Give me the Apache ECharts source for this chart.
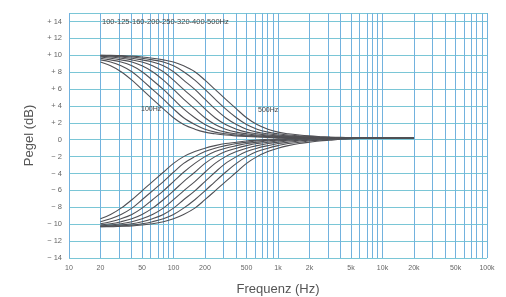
<!DOCTYPE html>
<html>
<head>
<meta charset="utf-8">
<script src="https://cdn.jsdelivr.net/npm/echarts@6/dist/echarts.min.js"></script>
<style>
  html, body { margin: 0; padding: 0; background: #fff; }
  #chart { width: 506px; height: 297px; }
</style>
</head>
<body>
<div id="chart"></div>
<script>
const freqs = [20, 25, 31.5, 40, 50, 63, 80, 100, 125, 160, 200, 250, 315, 400, 500, 630, 800, 1000, 1250, 1600, 2000, 2500, 3150, 4000, 5000, 10000, 20000];

// boost (dB), one array per turnover frequency
const boost100 = [9.2, 8.75, 8.05, 7.05, 5.95, 4.8, 3.65, 2.6, 1.8, 1.25, 0.9, 0.7, 0.55, 0.45, 0.38, 0.32, 0.28, 0.25, 0.23, 0.22, 0.2, 0.2, 0.2, 0.2, 0.2, 0.2, 0.2];
const boost125 = [9.45, 9.2, 8.75, 8.05, 7.05, 5.95, 4.8, 3.65, 2.6, 1.8, 1.25, 0.9, 0.7, 0.55, 0.45, 0.38, 0.32, 0.28, 0.25, 0.23, 0.22, 0.2, 0.2, 0.2, 0.2, 0.2, 0.2];
const boost160 = [9.65, 9.45, 9.2, 8.75, 8.05, 7.05, 5.95, 4.8, 3.65, 2.6, 1.8, 1.25, 0.9, 0.7, 0.55, 0.45, 0.38, 0.32, 0.28, 0.25, 0.23, 0.22, 0.2, 0.2, 0.2, 0.2, 0.2];
const boost200 = [9.8, 9.65, 9.45, 9.2, 8.75, 8.05, 7.05, 5.95, 4.8, 3.65, 2.6, 1.8, 1.25, 0.9, 0.7, 0.55, 0.45, 0.38, 0.32, 0.28, 0.25, 0.23, 0.22, 0.2, 0.2, 0.2, 0.2];
const boost250 = [9.9, 9.8, 9.65, 9.45, 9.2, 8.75, 8.05, 7.05, 5.95, 4.8, 3.65, 2.6, 1.8, 1.25, 0.9, 0.7, 0.55, 0.45, 0.38, 0.32, 0.28, 0.25, 0.23, 0.22, 0.2, 0.2, 0.2];
const boost320 = [9.95, 9.9, 9.8, 9.65, 9.45, 9.2, 8.75, 8.05, 7.05, 5.95, 4.8, 3.65, 2.6, 1.8, 1.25, 0.9, 0.7, 0.55, 0.45, 0.38, 0.32, 0.28, 0.25, 0.23, 0.22, 0.2, 0.2];
const boost400 = [10.0, 9.95, 9.9, 9.8, 9.65, 9.45, 9.2, 8.75, 8.05, 7.05, 5.95, 4.8, 3.65, 2.6, 1.8, 1.25, 0.9, 0.7, 0.55, 0.45, 0.38, 0.32, 0.28, 0.25, 0.23, 0.2, 0.2];
const boost500 = [10.0, 10.0, 9.95, 9.9, 9.8, 9.65, 9.45, 9.2, 8.75, 8.05, 7.05, 5.95, 4.8, 3.65, 2.6, 1.8, 1.25, 0.9, 0.7, 0.55, 0.45, 0.38, 0.32, 0.28, 0.25, 0.2, 0.2];

// cut (dB)
const cut100 = [-9.35, -8.85, -8.1, -7.1, -6.05, -4.95, -3.85, -2.8, -2.0, -1.4, -1.0, -0.7, -0.45, -0.3, -0.15, -0.05, 0.05, 0.1, 0.15, 0.18, 0.2, 0.2, 0.2, 0.2, 0.2, 0.2, 0.2];
const cut125 = [-9.7, -9.35, -8.85, -8.1, -7.1, -6.05, -4.95, -3.85, -2.8, -2.0, -1.4, -1.0, -0.7, -0.45, -0.3, -0.15, -0.05, 0.05, 0.1, 0.15, 0.18, 0.2, 0.2, 0.2, 0.2, 0.2, 0.2];
const cut160 = [-9.95, -9.7, -9.35, -8.85, -8.1, -7.1, -6.05, -4.95, -3.85, -2.8, -2.0, -1.4, -1.0, -0.7, -0.45, -0.3, -0.15, -0.05, 0.05, 0.1, 0.15, 0.18, 0.2, 0.2, 0.2, 0.2, 0.2];
const cut200 = [-10.1, -9.95, -9.7, -9.35, -8.85, -8.1, -7.1, -6.05, -4.95, -3.85, -2.8, -2.0, -1.4, -1.0, -0.7, -0.45, -0.3, -0.15, -0.05, 0.05, 0.1, 0.15, 0.18, 0.2, 0.2, 0.2, 0.2];
const cut250 = [-10.2, -10.1, -9.95, -9.7, -9.35, -8.85, -8.1, -7.1, -6.05, -4.95, -3.85, -2.8, -2.0, -1.4, -1.0, -0.7, -0.45, -0.3, -0.15, -0.05, 0.05, 0.1, 0.15, 0.18, 0.2, 0.2, 0.2];
const cut320 = [-10.25, -10.2, -10.1, -9.95, -9.7, -9.35, -8.85, -8.1, -7.1, -6.05, -4.95, -3.85, -2.8, -2.0, -1.4, -1.0, -0.7, -0.45, -0.3, -0.15, -0.05, 0.05, 0.1, 0.15, 0.18, 0.2, 0.2];
const cut400 = [-10.3, -10.25, -10.2, -10.1, -9.95, -9.7, -9.35, -8.85, -8.1, -7.1, -6.05, -4.95, -3.85, -2.8, -2.0, -1.4, -1.0, -0.7, -0.45, -0.3, -0.15, -0.05, 0.05, 0.1, 0.15, 0.2, 0.2];
const cut500 = [-10.3, -10.3, -10.25, -10.2, -10.1, -9.95, -9.7, -9.35, -8.85, -8.1, -7.1, -6.05, -4.95, -3.85, -2.8, -2.0, -1.4, -1.0, -0.7, -0.45, -0.3, -0.15, -0.05, 0.05, 0.1, 0.2, 0.2];

const curves = [boost100, boost125, boost160, boost200, boost250, boost320, boost400, boost500,
  cut100, cut125, cut160, cut200, cut250, cut320, cut400, cut500];

// axis ticks
const xTickFreqs = [10, 20, 50, 100, 200, 500, 1000, 2000, 5000, 10000, 20000, 50000, 100000];
const xTickLabels = ['10', '20', '50', '100', '200', '500', '1k', '2k', '5k', '10k', '20k', '50k', '100k'];
const gridFreqs = [10, 20, 30, 40, 50, 60, 70, 80, 90,
  100, 200, 300, 400, 500, 600, 700, 800, 900,
  1000, 2000, 3000, 4000, 5000, 6000, 7000, 8000, 9000,
  10000, 20000, 30000, 40000, 50000, 60000, 70000, 80000, 90000, 100000];

const chart = echarts.init(document.getElementById('chart'));

const lg = (f) => Math.log10(f);

const series = curves.map((vals) => ({
  type: 'line',
  data: vals.map((v, j) => [lg(freqs[j]), v]),
  smooth: 0.35,
  showSymbol: false,
  silent: true,
  lineStyle: { color: '#505055', width: 1.1 },
  z: 5
}));

// vertical log grid drawn as markLines on the first series
series[0].markLine = {
  silent: true,
  symbol: 'none',
  label: { show: false },
  lineStyle: { color: '#72b2de', width: 1, type: 'solid' },
  z: 1,
  data: gridFreqs.map((f) => ({ xAxis: lg(f) }))
};

chart.setOption({
  animation: false,
  textStyle: { fontFamily: 'Liberation Sans' },
  grid: { left: 69, right: 19, top: 13, bottom: 39, outerBoundsMode: 'none', containLabel: false },
  xAxis: {
    type: 'value',
    min: 1,
    max: 5,
    name: 'Frequenz (Hz)',
    nameLocation: 'middle',
    nameGap: 25,
    nameTextStyle: { fontSize: 13, color: '#555' },
    axisLine: { show: false },
    axisTick: { show: false },
    splitLine: { show: false },
    axisLabel: {
      customValues: xTickFreqs.map(lg),
      fontSize: 7,
      color: '#666',
      margin: 7,
      formatter: (v) => {
        const i = xTickFreqs.findIndex((f) => Math.abs(lg(f) - v) < 1e-6);
        return i >= 0 ? xTickLabels[i] : '';
      }
    }
  },
  yAxis: {
    type: 'value',
    min: -14,
    max: 15,
    interval: 2,
    name: 'Pegel (dB)',
    nameLocation: 'middle',
    nameGap: 31,
    nameTextStyle: { fontSize: 13, color: '#555' },
    axisLine: { show: false },
    axisTick: { show: false },
    splitLine: { lineStyle: { color: '#7ac6d6', width: 1 } },
    axisLabel: {
      fontSize: 7.5,
      color: '#666',
      margin: 7,
      formatter: (v) => {
        if (v > 14) return '';
        if (v > 0) return '+ ' + v;
        if (v < 0) return '\u2212 ' + Math.abs(v);
        return '0';
      }
    }
  },
  graphic: [
    { type: 'text', left: 102, top: 18, style: { text: '100-125-160-200-250-320-400-500Hz', fontSize: 7.5, fill: '#444', fontFamily: 'Liberation Sans' }, z: 10 },
    { type: 'text', left: 141, top: 106, style: { text: '100Hz', fontSize: 7, fill: '#444', fontFamily: 'Liberation Sans' }, z: 10 },
    { type: 'text', left: 258, top: 107, style: { text: '500Hz', fontSize: 7, fill: '#444', fontFamily: 'Liberation Sans' }, z: 10 }
  ],
  series: series
});
</script>
</body>
</html>
